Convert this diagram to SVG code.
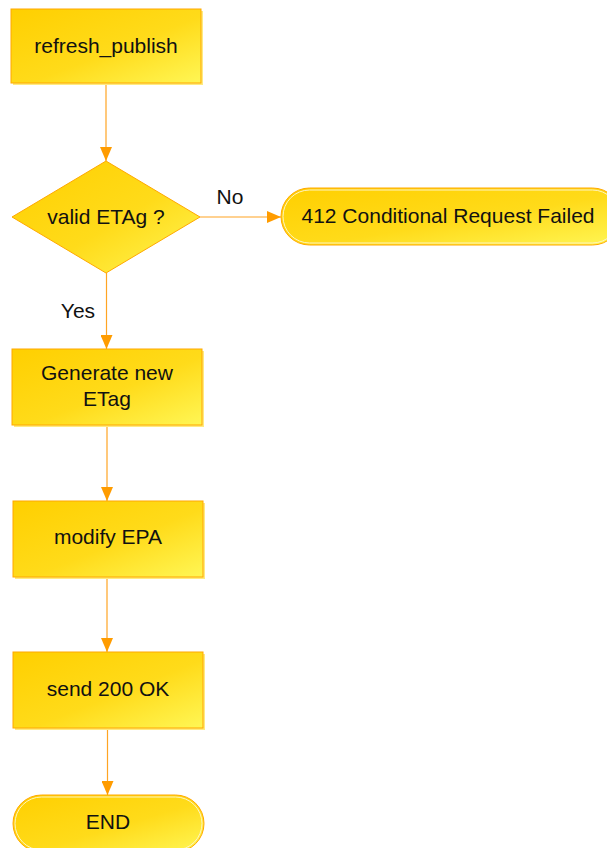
<svg xmlns="http://www.w3.org/2000/svg" width="607" height="848" viewBox="0 0 607 848">
<defs>
<linearGradient id="g" x1="0" y1="0" x2="1" y2="1">
<stop offset="0" stop-color="#FFCF00"/>
<stop offset="0.55" stop-color="#FFDB1A"/>
<stop offset="1" stop-color="#FFF655"/>
</linearGradient>
<marker id="ah" markerWidth="14" markerHeight="12" refX="14" refY="6" orient="auto" markerUnits="userSpaceOnUse">
<polygon points="0,0 14,6 0,12" fill="#FF9C00"/>
</marker>
<style>
.box{fill:url(#g);stroke:#FFA800;stroke-width:1}
.sh{fill:#FFEB80}
.term{fill:url(#g);stroke:#FFA800;stroke-width:1}
.termin{fill:none;stroke:#FFF3C0;stroke-width:1}
.t{font-family:"Liberation Sans",Arial,sans-serif;font-size:21px;fill:#111;text-anchor:middle}
.c{stroke:#FFA423;stroke-width:1.2;fill:none;marker-end:url(#ah)}
</style>
</defs>
<g id="connectors">
<line class="c" x1="106" y1="84" x2="106" y2="161"/>
<line class="c" x1="200" y1="217" x2="281" y2="217"/>
<line class="c" x1="106.5" y1="273" x2="106.5" y2="349"/>
<line class="c" x1="107" y1="426" x2="107" y2="501"/>
<line class="c" x1="107" y1="578" x2="107" y2="652"/>
<line class="c" x1="107.5" y1="729" x2="107.5" y2="795"/>
<text class="t" x="230" y="204">No</text>
<text class="t" x="78" y="318">Yes</text>
</g>
<g id="refresh_publish">
<rect class="sh" x="13" y="11" width="190" height="74"/>
<rect class="box" x="11" y="9" width="190" height="74"/>
<text class="t" x="106" y="53">refresh_publish</text>
</g>
<g id="valid_etag">
<polygon class="box" points="106,161 200,217 106,273 12,217"/>
<text class="t" x="106" y="224">valid ETAg ?</text>
</g>
<g id="failed412">
<rect class="term" x="281" y="188" width="340" height="57" rx="28.5" ry="28.5"/>
<rect class="termin" x="283" y="190" width="336" height="53" rx="26.5" ry="26.5"/>
<text class="t" x="448" y="223">412 Conditional Request Failed</text>
</g>
<g id="generate_etag">
<rect class="sh" x="14" y="351" width="190" height="76"/>
<rect class="box" x="12" y="349" width="190" height="76"/>
<text class="t" x="107" y="380">Generate new</text>
<text class="t" x="107" y="406">ETag</text>
</g>
<g id="modify_epa">
<rect class="sh" x="15" y="503" width="190" height="76"/>
<rect class="box" x="13" y="501" width="190" height="76"/>
<text class="t" x="108" y="544">modify EPA</text>
</g>
<g id="send_200">
<rect class="sh" x="15" y="654" width="190" height="76"/>
<rect class="box" x="13" y="652" width="190" height="76"/>
<text class="t" x="108" y="696">send 200 OK</text>
</g>
<g id="end">
<rect class="term" x="13" y="795" width="191" height="57" rx="28.5" ry="28.5"/>
<rect class="termin" x="15" y="797" width="187" height="53" rx="26.5" ry="26.5"/>
<text class="t" x="108" y="829">END</text>
</g>
</svg>
